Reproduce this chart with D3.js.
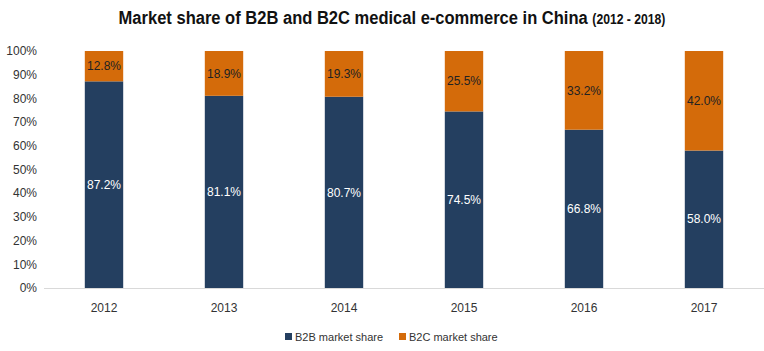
<!DOCTYPE html>
<html>
<head>
<meta charset="utf-8">
<script src="https://cdn.jsdelivr.net/npm/d3@7"></script>
<style>
  body { margin: 0; background: #fff; }
  svg { display: block; font-family: Arial, "Liberation Sans", sans-serif; }
</style>
</head>
<body>
<svg id="chart" width="764" height="351"></svg>
<script>
const years = ["2012", "2013", "2014", "2015", "2016", "2017"]
const b2b = [87.2, 81.1, 80.7, 74.5, 66.8, 58.0]
const b2c = [12.8, 18.9, 19.3, 25.5, 33.2, 42.0]
const yTicks = [0, 10, 20, 30, 40, 50, 60, 70, 80, 90, 100]
const seriesNames = ["B2B market share", "B2C market share"]
const colors = ["#243F60", "#D46B0A"]

const svg = d3.select('#chart')
const margin = { top: 51, right: 0, bottom: 63, left: 44 }
const width = 764 - margin.left - margin.right
const height = 351 - margin.top - margin.bottom

// title (condensed look, no narrow font available)
const TITLE_X = 392
const title = svg.append('text')
  .attr('x', 0)
  .attr('y', 0)
  .attr('text-anchor', 'middle')
  .attr('transform', `translate(${TITLE_X}, 24) scale(0.87, 1)`)
  .attr('font-weight', 'bold')
  .attr('fill', '#111')
title.append('tspan').attr('font-size', 19).text('Market share of B2B and B2C medical e-commerce in China ')
title.append('tspan').attr('font-size', 14).text('(2012 - 2018)')

const g = svg.append('g').attr('transform', `translate(${margin.left}, ${margin.top})`)

const x = d3.scaleBand().domain(years).range([0, width]).paddingInner(0.68).paddingOuter(0.34)
const y = d3.scaleLinear().domain([0, 100]).range([height, 0])

// y axis labels
g.selectAll('.ytick')
  .data(yTicks)
  .enter().append('text')
  .attr('class', 'ytick')
  .attr('x', -7)
  .attr('y', d => y(d))
  .attr('dy', '0.35em')
  .attr('text-anchor', 'end')
  .attr('font-size', 12)
  .attr('fill', '#333')
  .text(d => d + '%')

// baseline
g.append('line')
  .attr('x1', 0).attr('x2', width)
  .attr('y1', height + 0.5).attr('y2', height + 0.5)
  .attr('stroke', '#d9d9d9')

// x labels
g.selectAll('.xtick')
  .data(years)
  .enter().append('text')
  .attr('class', 'xtick')
  .attr('x', d => x(d) + x.bandwidth() / 2)
  .attr('y', height + 24)
  .attr('text-anchor', 'middle')
  .attr('font-size', 12)
  .attr('fill', '#333')
  .text(d => d)

const rows = years.map((yr, i) => ({ year: yr, b2b: b2b[i], b2c: b2c[i] }))

// B2B bars
g.selectAll('.b2b')
  .data(rows)
  .enter().append('rect')
  .attr('class', 'b2b')
  .attr('x', d => x(d.year))
  .attr('width', x.bandwidth())
  .attr('y', d => y(d.b2b))
  .attr('height', d => height - y(d.b2b))
  .attr('fill', colors[0])

// B2C bars
g.selectAll('.b2c')
  .data(rows)
  .enter().append('rect')
  .attr('class', 'b2c')
  .attr('x', d => x(d.year))
  .attr('width', x.bandwidth())
  .attr('y', d => y(d.b2b + d.b2c))
  .attr('height', d => y(d.b2b) - y(d.b2b + d.b2c))
  .attr('fill', colors[1])

// labels
g.selectAll('.lab-b2b')
  .data(rows)
  .enter().append('text')
  .attr('x', d => x(d.year) + x.bandwidth() / 2)
  .attr('y', d => y(d.b2b / 2))
  .attr('dy', '0.35em')
  .attr('text-anchor', 'middle')
  .attr('font-size', 12)
  .attr('fill', '#fff')
  .text(d => d.b2b.toFixed(1) + '%')

g.selectAll('.lab-b2c')
  .data(rows)
  .enter().append('text')
  .attr('x', d => x(d.year) + x.bandwidth() / 2)
  .attr('y', d => y(d.b2b + d.b2c / 2))
  .attr('dy', '0.35em')
  .attr('text-anchor', 'middle')
  .attr('font-size', 12)
  .attr('fill', '#222')
  .text(d => d.b2c.toFixed(1) + '%')

// legend
const legend = svg.append('g').attr('transform', 'translate(285, 337)')
const legendX = [0, 114]
seriesNames.forEach((name, i) => {
  legend.append('rect')
    .attr('x', legendX[i]).attr('y', -4)
    .attr('width', 7).attr('height', 7)
    .attr('fill', colors[i])
  legend.append('text')
    .attr('x', legendX[i] + 10).attr('y', 0)
    .attr('dy', '0.35em')
    .attr('font-size', 11)
    .attr('fill', '#333')
    .text(name)
})
</script>
</body>
</html>
